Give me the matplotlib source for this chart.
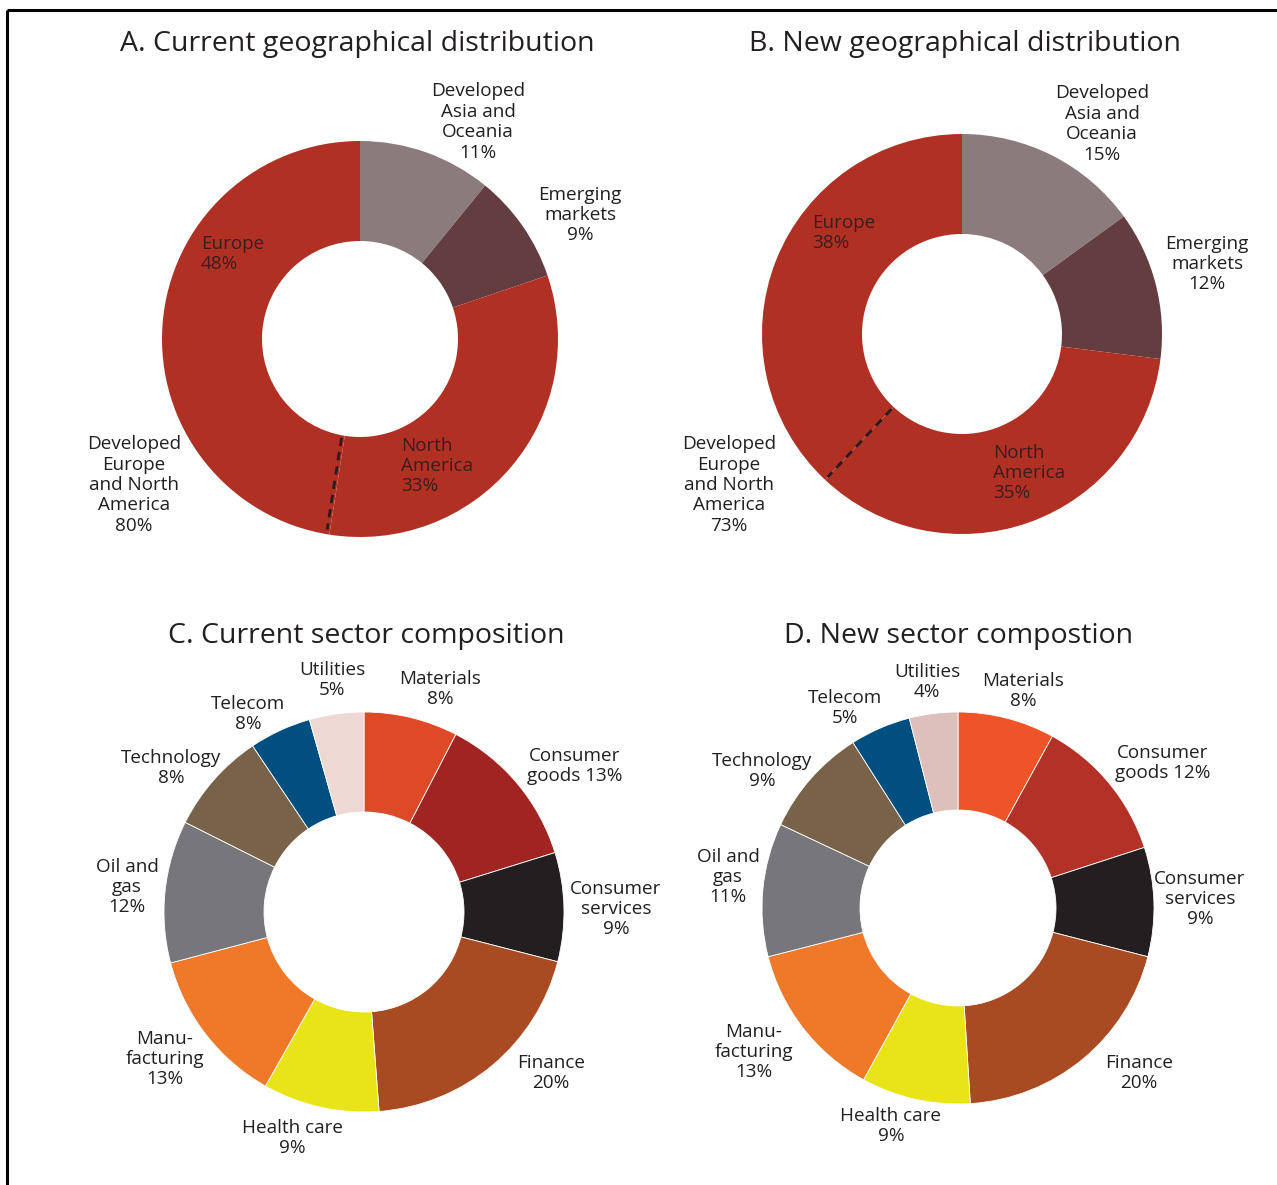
import matplotlib
matplotlib.use("Agg")
import matplotlib.pyplot as plt
import numpy as np

plt.rcParams['font.family'] = ['Open Sans', 'DejaVu Sans']

# ---------------- data ----------------
geo_regions = ["Developed Asia and Oceania", "Emerging markets", "North America", "Europe"]
geo_current = [11, 9, 33, 48]
geo_new = [15, 12, 35, 38]
geo_developed_current = 80
geo_developed_new = 73

sectors = ["Materials", "Consumer goods", "Consumer services", "Finance", "Health care",
           "Manufacturing", "Oil and gas", "Technology", "Telecom", "Utilities"]
# percentages as printed on the chart
sector_current_labels = [8, 13, 9, 20, 9, 13, 12, 8, 8, 5]
sector_new = [8, 12, 9, 20, 9, 13, 11, 9, 5, 4]
# wedge sizes of panel C as drawn in the picture
sector_current_wedges = [7.6, 12.6, 8.8, 19.8, 9.4, 12.7, 11.5, 8.2, 5.0, 4.4]

titles = ["A. Current geographical distribution", "B. New geographical distribution",
          "C. Current sector composition", "D. New sector compostion"]

# ---------------- styles ----------------
geo_colors = ["#8C7B7D", "#633D40", "#B03024", "#B03024"]
sector_colors_c = ["#DD4A28", "#A02422", "#231F20", "#A84B22", "#E8E415",
                   "#F07829", "#77777B", "#78624A", "#004F80", "#EDD8D3"]
sector_colors_d = ["#EF5428", "#B33127", "#231F20", "#A84B22", "#E8E415",
                   "#F07829", "#77777B", "#78624A", "#004F80", "#DDC0BC"]
TXT = "#231F20"

W, H = 1277, 1185
fig = plt.figure(figsize=(W / 100, H / 100), dpi=100)
ax = fig.add_axes([0, 0, 1, 1])


def Y(y):
    return H - y


def donut(values, colors, cx, cy, r, hole, edge):
    ax.pie(values, colors=colors, startangle=90, counterclock=False,
           center=(cx, Y(cy)), radius=r, normalize=True,
           wedgeprops=dict(width=r - hole, edgecolor=edge, linewidth=0.6 if edge else 0))


def dashed_boundary(values, idx, cx, cy, r_in, r_out, dx=0):
    frac = sum(values[:idx]) / sum(values)
    th = np.deg2rad(90 - 360 * frac)
    xs = [cx + dx + r_in * np.cos(th), cx + dx + r_out * np.cos(th)]
    ys = [Y(cy) + r_in * np.sin(th), Y(cy) + r_out * np.sin(th)]
    ax.plot(xs, ys, ls=(0, (3, 2.2)), color="#231F20", lw=2.0, zorder=5)


LFS = 13.6
LS = 1.17


def label(x, y, s, ha="center", color=TXT):
    ax.text(x, Y(y), s, ha=ha, va="center", fontsize=LFS, color=color,
            linespacing=LS, multialignment=ha)


# ---------------- panel A ----------------
donut(geo_current, geo_colors, 360, 339, 198, 98, None)
dashed_boundary(geo_current, 3, 360, 339, 100, 193, dx=-3)
# ---------------- panel B ----------------
donut(geo_new, geo_colors, 962, 334, 200, 100, None)
dashed_boundary(geo_new, 3, 962, 334, 103, 196)
# ---------------- panel C ----------------
donut(sector_current_wedges, sector_colors_c, 364, 912, 200, 100, "white")
# ---------------- panel D ----------------
donut(sector_new, sector_colors_d, 958, 908, 196, 98, "white")

# titles
TFS = 20.5
ax.text(357, Y(44), titles[0], ha="center", va="center", fontsize=TFS, color=TXT)
ax.text(965, Y(44), titles[1], ha="center", va="center", fontsize=TFS, color=TXT)
ax.text(366, Y(636), titles[2], ha="center", va="center", fontsize=TFS, color=TXT)
ax.text(959, Y(636), titles[3], ha="center", va="center", fontsize=TFS, color=TXT)

# geo labels A
label(478, 122, f"Developed\nAsia and\nOceania\n{geo_current[0]}%")
label(580, 215, f"Emerging\nmarkets\n{geo_current[1]}%")
label(201, 254, f"Europe\n{geo_current[3]}%", ha="left", color="#3A1E1E")
label(401, 466, f"North\nAmerica\n{geo_current[2]}%", ha="left", color="#3A1E1E")
label(134, 485, f"Developed\nEurope\nand North\nAmerica\n{geo_developed_current}%")
# geo labels B
label(1102, 124, f"Developed\nAsia and\nOceania\n{geo_new[0]}%")
label(1207, 264, f"Emerging\nmarkets\n{geo_new[1]}%")
label(812, 233, f"Europe\n{geo_new[3]}%", ha="left", color="#3A1E1E")
label(993, 473, f"North\nAmerica\n{geo_new[2]}%", ha="left", color="#3A1E1E")
label(729, 485, f"Developed\nEurope\nand North\nAmerica\n{geo_developed_new}%")

# sector labels
fmt = ["Materials\n{}%", "Consumer\ngoods {}%", "Consumer\nservices\n{}%", "Finance\n{}%",
       "Health care\n{}%", "Manu-\nfacturing\n{}%", "Oil and\ngas\n{}%", "Technology\n{}%",
       "Telecom\n{}%", "Utilities\n{}%"]
pos_c = [(440, 689), (575, 766), (616, 909), (551, 1073), (292, 1138),
         (165, 1059), (127, 887), (171, 768), (248, 714), (332, 680)]
pos_d = [(1023, 691), (1163, 763), (1200, 899), (1139, 1073), (891, 1126),
         (754, 1052), (728, 877), (762, 771), (845, 708), (927, 682)]
for f, v, (x, y) in zip(fmt, sector_current_labels, pos_c):
    label(x, y, f.format(v))
for f, v, (x, y) in zip(fmt, sector_new, pos_d):
    label(x, y, f.format(v))

# frame lines (top and left)
ax.plot([7, W], [Y(10), Y(10)], color="black", lw=2.2, solid_capstyle="butt")
ax.plot([7, 7], [Y(10), 0], color="black", lw=2.2, solid_capstyle="butt")

ax.set_xlim(0, W)
ax.set_ylim(0, H)
ax.set_aspect("auto")
ax.axis("off")

fig.savefig("out.png", dpi=100, facecolor="white")
